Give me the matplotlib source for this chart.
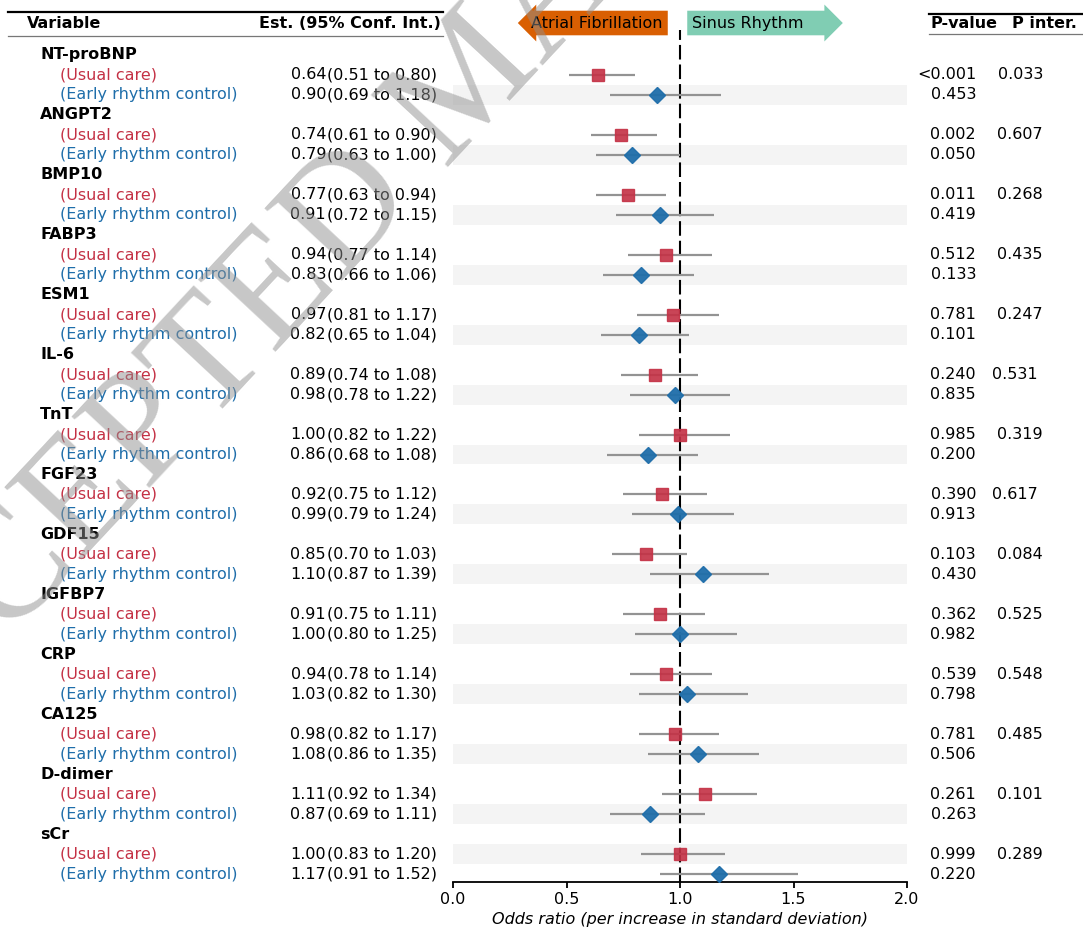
"""
Forest plot: biomarker odds ratios by treatment arm (usual care vs early rhythm control).
"""

import matplotlib
matplotlib.use("Agg")
import matplotlib.pyplot as plt
from matplotlib.lines import Line2D
from matplotlib.transforms import blended_transform_factory

# ── Data ──────────────────────────────────────────────────────────────────────
groups = ["NT-proBNP", "ANGPT2", "BMP10", "FABP3", "ESM1", "IL-6", "TnT",
          "FGF23", "GDF15", "IGFBP7", "CRP", "CA125", "D-dimer", "sCr"]

usual_or = [0.64, 0.74, 0.77, 0.94, 0.97, 0.89, 1.00, 0.92, 0.85, 0.91, 0.94, 0.98, 1.11, 1.00]
usual_lo = [0.51, 0.61, 0.63, 0.77, 0.81, 0.74, 0.82, 0.75, 0.70, 0.75, 0.78, 0.82, 0.92, 0.83]
usual_hi = [0.80, 0.90, 0.94, 1.14, 1.17, 1.08, 1.22, 1.12, 1.03, 1.11, 1.14, 1.17, 1.34, 1.20]

early_or = [0.90, 0.79, 0.91, 0.83, 0.82, 0.98, 0.86, 0.99, 1.10, 1.00, 1.03, 1.08, 0.87, 1.17]
early_lo = [0.69, 0.63, 0.72, 0.66, 0.65, 0.78, 0.68, 0.79, 0.87, 0.80, 0.82, 0.86, 0.69, 0.91]
early_hi = [1.18, 1.00, 1.15, 1.06, 1.04, 1.22, 1.08, 1.24, 1.39, 1.25, 1.30, 1.35, 1.11, 1.52]

usual_p = ["<0.001", "0.002", "0.011", "0.512", "0.781", "0.240", "0.985",
           "0.390", "0.103", "0.362", "0.539", "0.781", "0.261", "0.999"]
early_p = ["0.453", "0.050", "0.419", "0.133", "0.101", "0.835", "0.200",
           "0.913", "0.430", "0.982", "0.798", "0.506", "0.263", "0.220"]
p_inter = ["0.033", "0.607", "0.268", "0.435", "0.247", "0.531 ", "0.319",
           "0.617 ", "0.084", "0.525", "0.548", "0.485", "0.101", "0.289"]

xticks = [0.0, 0.5, 1.0, 1.5, 2.0]

# ── Style ─────────────────────────────────────────────────────────────────────
RED = "#c43145"
BLUE = "#1f6eaa"
SHADE = "#f4f4f4"
FS = 11.5
W, H = 1083, 932

plt.rcParams["font.family"] = ["DejaVu Sans"]

fig = plt.figure(figsize=(W / 100, H / 100), dpi=100)
ax = fig.add_axes([453 / W, 1 - 882 / H, 454 / W, 852 / H])
ax.set_xlim(0, 2)
ax.set_ylim(41.4, -1.25)

# row index: 3 per group (header, usual, early)
rows_usual = [3 * i + 1 for i in range(len(groups))]
rows_early = [3 * i + 2 for i in range(len(groups))]

# alternating shading
shaded = rows_early[:-1] + [rows_usual[-1]]
for r in shaded:
    ax.axhspan(r - 0.5, r + 0.5, color=SHADE, lw=0, zorder=0)

ax.axvline(1.0, color="black", lw=1.5, dashes=(7, 2.4), zorder=1)

ax.hlines(rows_usual, usual_lo, usual_hi, color="#939393", lw=1.6, zorder=2)
ax.hlines(rows_early, early_lo, early_hi, color="#939393", lw=1.6, zorder=2)
ax.plot(usual_or, rows_usual, "s", color=RED, ms=8.5, alpha=0.9, ls="none", zorder=3)
ax.plot(early_or, rows_early, "D", color=BLUE, ms=8.5, alpha=0.95, ls="none", zorder=3)

for s in ["left", "right", "top"]:
    ax.spines[s].set_visible(False)
ax.spines["bottom"].set_linewidth(1.3)
ax.set_yticks([])
ax.set_xticks(xticks)
ax.tick_params(axis="x", labelsize=FS, width=1.3, length=4)
ax.set_xlabel("Odds ratio (per increase in standard deviation)",
              fontsize=FS, style="italic", labelpad=3)

# direction arrows
ax.text(0.925, -1.6, "Atrial Fibrillation", ha="right", va="center", fontsize=FS,
        bbox=dict(boxstyle="larrow,pad=0.3", fc="#d95f02", ec="none"))
ax.text(1.053, -1.6, "Sinus Rhythm     ", ha="left", va="center", fontsize=FS,
        bbox=dict(boxstyle="rarrow,pad=0.3", fc="#80cdb3", ec="none"))

# ── Table text ────────────────────────────────────────────────────────────────
tr = blended_transform_factory(fig.transFigure, ax.transData)
for i, g in enumerate(groups):
    r0 = 3 * i
    ax.text(40 / W, r0, g, transform=tr, ha="left", va="center",
            fontsize=FS, fontweight="bold")
    ax.text(60 / W, r0 + 1, "(Usual care)", transform=tr, ha="left",
            va="center", fontsize=FS, color=RED)
    ax.text(60 / W, r0 + 2, "(Early rhythm control)", transform=tr, ha="left",
            va="center", fontsize=FS, color=BLUE)
    ax.text(326 / W, r0 + 1, f"{usual_or[i]:.2f}", transform=tr, ha="right",
            va="center", fontsize=FS)
    ax.text(327 / W, r0 + 1, f"({usual_lo[i]:.2f} to {usual_hi[i]:.2f})",
            transform=tr, ha="left", va="center", fontsize=FS)
    ax.text(326 / W, r0 + 2, f"{early_or[i]:.2f}", transform=tr, ha="right",
            va="center", fontsize=FS)
    ax.text(327 / W, r0 + 2, f"({early_lo[i]:.2f} to {early_hi[i]:.2f})",
            transform=tr, ha="left", va="center", fontsize=FS)
    ax.text(976 / W, r0 + 1, usual_p[i], transform=tr, ha="right",
            va="center", fontsize=FS)
    ax.text(976 / W, r0 + 2, early_p[i], transform=tr, ha="right",
            va="center", fontsize=FS)
    ax.text(1043 / W, r0 + 1, p_inter[i], transform=tr, ha="right",
            va="center", fontsize=FS)

# headers
hy = 1 - 23 / H
fig.text(27 / W, hy, "Variable", ha="left", va="center", fontsize=FS, fontweight="bold")
fig.text(441 / W, hy, "Est. (95% Conf. Int.)", ha="right", va="center",
         fontsize=FS, fontweight="bold")
fig.text(930 / W, hy, "P-value", ha="left", va="center", fontsize=FS, fontweight="bold")
fig.text(1012 / W, hy, "P inter.", ha="left", va="center", fontsize=FS, fontweight="bold")

fig.add_artist(Line2D([8 / W, 443 / W], [1 - 12 / H] * 2, color="black", lw=1.6,
                      transform=fig.transFigure))
fig.add_artist(Line2D([8 / W, 443 / W], [1 - 36 / H] * 2, color="#777777", lw=0.9,
                      transform=fig.transFigure))
fig.add_artist(Line2D([929 / W, 1083 / W], [1 - 14 / H] * 2, color="black", lw=1.6,
                      transform=fig.transFigure))
fig.add_artist(Line2D([929 / W, 1083 / W], [1 - 34 / H] * 2, color="#777777", lw=0.9,
                      transform=fig.transFigure))

# watermark
fig.text(473 / W, 1 - 83 / H, "ACCEPTED MANUSCRIPT", ha="center", va="center",
         rotation=47, rotation_mode="anchor", fontsize=115,
         family=["Liberation Serif", "DejaVu Serif"], color="#909090", alpha=0.5,
         zorder=10)

fig.savefig("out.png", dpi=100)
